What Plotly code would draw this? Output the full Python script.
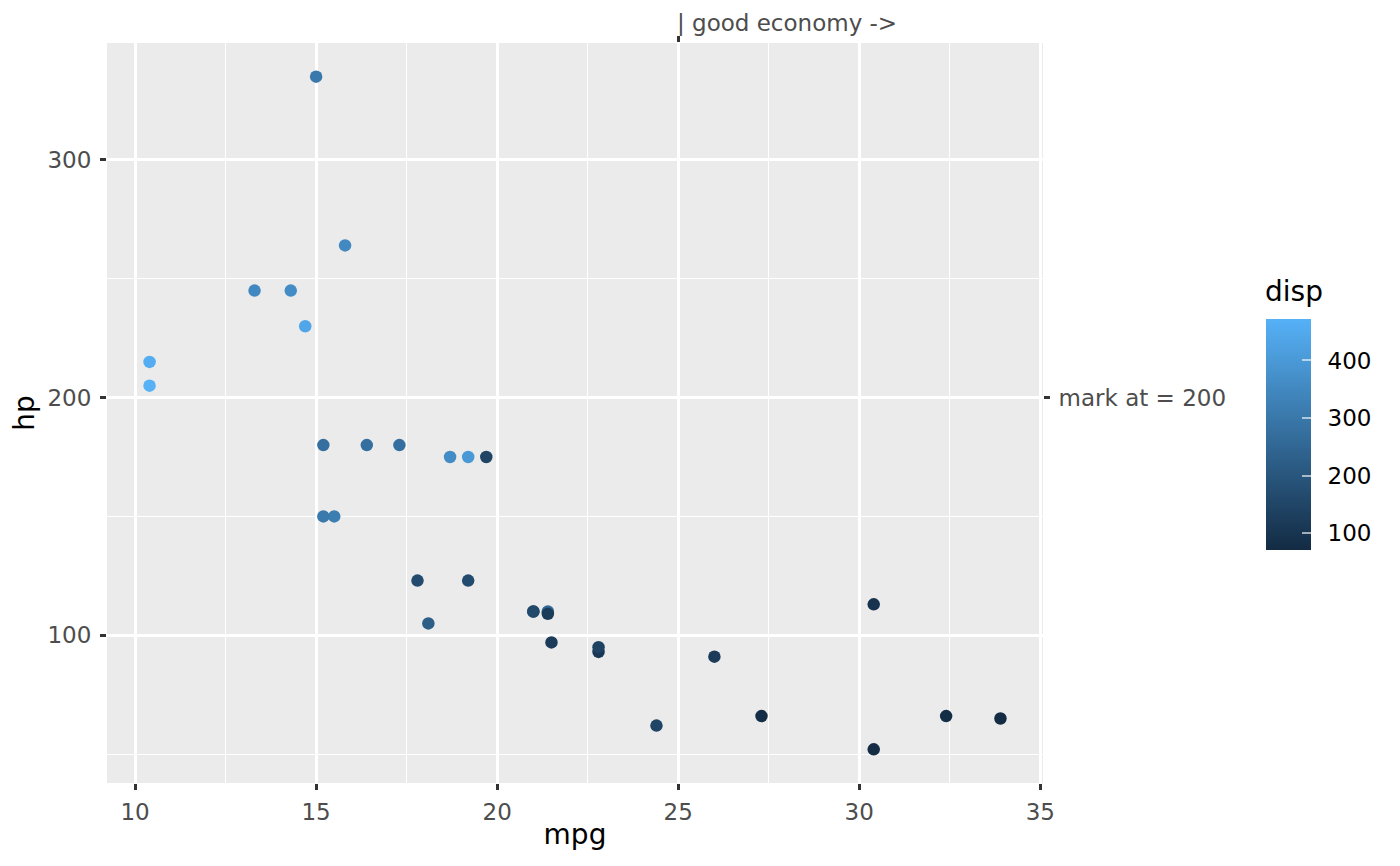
import plotly.graph_objects as go

# mtcars: mpg, hp, disp
mpg = [21.0, 21.0, 22.8, 21.4, 18.7, 18.1, 14.3, 24.4, 22.8, 19.2, 17.8, 16.4, 17.3, 15.2, 10.4, 10.4,
       14.7, 32.4, 30.4, 33.9, 21.5, 15.5, 15.2, 13.3, 19.2, 27.3, 26.0, 30.4, 15.8, 19.7, 15.0, 21.4]
hp = [110, 110, 93, 110, 175, 105, 245, 62, 95, 123, 123, 180, 180, 180, 205, 215,
      230, 66, 52, 65, 97, 150, 150, 245, 175, 66, 91, 113, 264, 175, 335, 109]
disp = [160, 160, 108, 258, 360, 225, 360, 146.7, 140.8, 167.6, 167.6, 275.8, 275.8, 275.8, 472, 460,
        440, 78.7, 75.7, 71.1, 120.1, 318, 304, 350, 400, 79, 120.3, 95.1, 351, 145, 301, 121]

disp_ticks = [100, 200, 300, 400]

x_break = 25
x_label = "| good economy ->"
y_break = 200
y_label = "mark at = 200"

xr = [9.225, 35.075]
yr = [37.85, 349.15]

font = "DejaVu Sans"
grey_txt = "#4D4D4D"

fig = go.Figure()
fig.add_trace(go.Scatter(
    x=mpg, y=hp, mode="markers",
    marker=dict(
        size=12.5, color=disp, colorscale=[[0, "#132B43"], [1, "#56B1F7"]],
        cmin=min(disp), cmax=max(disp),
        colorbar=dict(
            tickmode="array", tickvals=disp_ticks, ticktext=["\u2002" + str(v) for v in disp_ticks],
            ticks="inside", tickcolor="rgba(255,255,255,0.6)",
            ticklen=9, tickwidth=1.5, tickfont=dict(size=23, color="black", family=font),
            lenmode="pixels", len=251, thickness=45, thicknessmode="pixels",
            x=1.2276, xanchor="left", y=0.471, yanchor="middle", outlinewidth=0,
        ),
    ),
    showlegend=False,
))
# invisible trace to keep the secondary axes alive
fig.add_trace(go.Scatter(x=[x_break], y=[y_break], xaxis="x2", yaxis="y2", mode="markers",
                         marker=dict(opacity=0), showlegend=False, hoverinfo="skip"))

axis_common = dict(showline=False, zeroline=False, ticks="outside", ticklen=6, tickwidth=2.7,
                   tickcolor="#333333", tickfont=dict(size=23, color=grey_txt, family=font))
title_font = dict(size=28, color="black", family=font)

fig.update_layout(
    width=1400, height=866,
    margin=dict(l=99, r=365, t=35, b=91),
    plot_bgcolor="#EBEBEB", paper_bgcolor="white",
    font=dict(family=font),
    xaxis=dict(range=xr, tickvals=[10, 15, 20, 25, 30, 35], showgrid=True, gridcolor="white", gridwidth=2.7,
               minor=dict(tickvals=[12.5, 17.5, 22.5, 27.5, 32.5], showgrid=True, gridcolor="white",
                          gridwidth=1.4, ticks=""),
               title=dict(text="mpg", font=title_font, standoff=0),
               ticklabelstandoff=2, **axis_common),
    yaxis=dict(range=yr, tickvals=[100, 200, 300], showgrid=True, gridcolor="white", gridwidth=2.7,
               minor=dict(tickvals=[50, 150, 250], showgrid=True, gridcolor="white", gridwidth=1.4, ticks=""),
               title=dict(text="hp", font=title_font, standoff=8),
               ticklabelstandoff=4, **axis_common),
    xaxis2=dict(range=xr, overlaying="x", side="top", tickvals=[x_break], ticktext=[""], showgrid=False,
                **axis_common),
    yaxis2=dict(range=yr, overlaying="y", side="right", anchor="x", tickvals=[y_break], ticktext=[y_label],
                showgrid=False, ticklabelstandoff=4, **axis_common),
    annotations=[
        dict(x=x_break, y=1, xref="x2", yref="paper", text=x_label, showarrow=False,
             xanchor="left", yanchor="bottom", xshift=-3, yshift=5,
             font=dict(size=23, color=grey_txt, family=font)),
        dict(x=1.2382, y=0.639, xref="paper", yref="paper", text="disp", showarrow=False,
             xanchor="left", yanchor="bottom", xshift=-3, font=title_font),
    ],
)

fig.write_html("out.html")
